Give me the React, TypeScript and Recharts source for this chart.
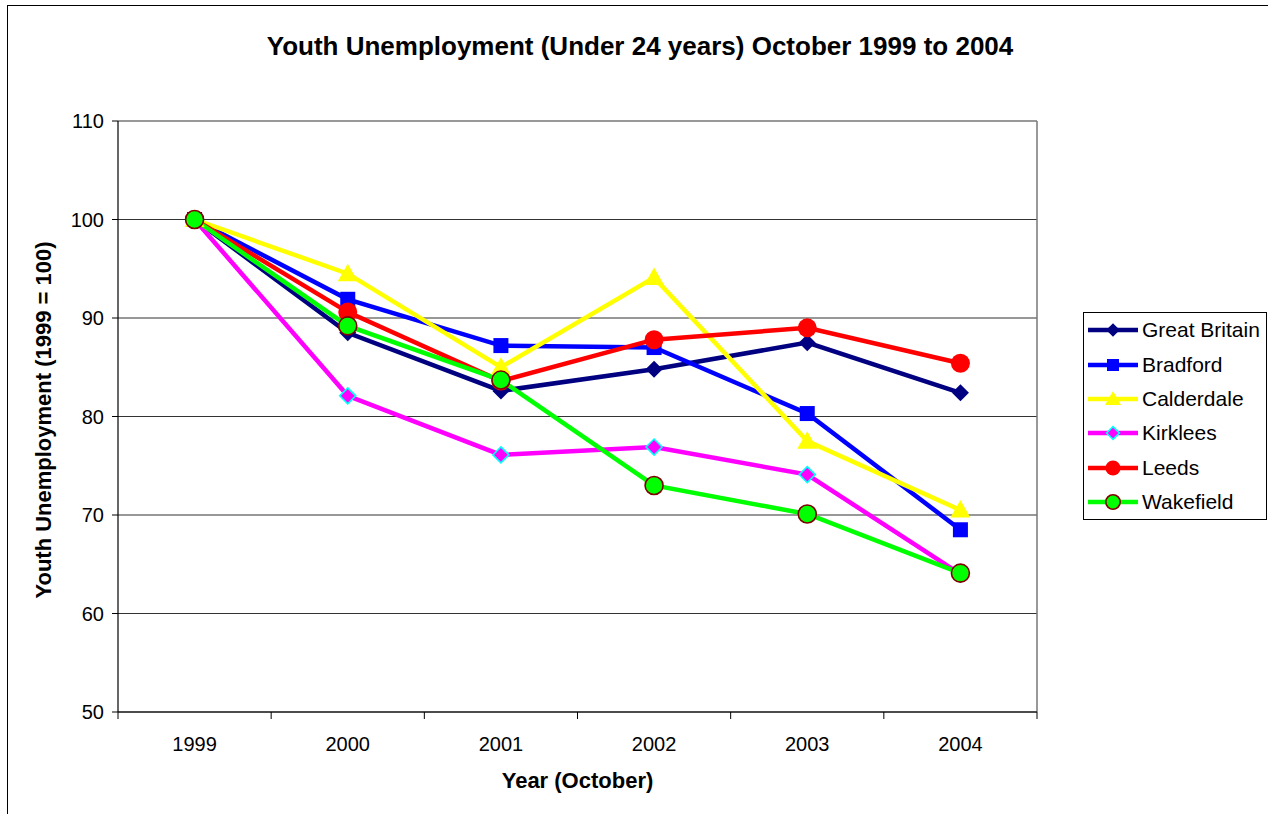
import React from 'react';
import { LineChart, Line, XAxis, YAxis, CartesianGrid, Legend, ReferenceLine } from 'recharts';

const YEARS = ['1999', '2000', '2001', '2002', '2003', '2004'];
const GREAT_BRITAIN = [100, 88.5, 82.6, 84.8, 87.5, 82.4];
const BRADFORD = [100, 91.9, 87.2, 87.0, 80.3, 68.5];
const CALDERDALE = [100, 94.5, 85.0, 94.1, 77.5, 70.5];
const KIRKLEES = [100, 82.1, 76.1, 76.9, 74.1, 64.0];
const LEEDS = [100, 90.6, 83.6, 87.8, 89.0, 85.4];
const WAKEFIELD = [100, 89.2, 83.7, 73.0, 70.1, 64.1];
const Y_TICKS = [50, 60, 70, 80, 90, 100, 110];
const X_TICKS = [0, 1, 2, 3, 4, 5];

const TITLE = 'Youth Unemployment (Under 24 years) October 1999 to 2004';
const Y_TITLE = 'Youth Unemployment (1999 = 100)';
const X_TITLE = 'Year (October)';

const FONT = '"Liberation Sans", Arial, sans-serif';
const W = 1268;
const H = 814;
const MARGIN = { top: 121, right: 231, bottom: 62, left: 0 };
const Y_AXIS_W = 118;
const X_AXIS_H = 40;
const PLOT_W = W - MARGIN.left - MARGIN.right - Y_AXIS_W;
const PLOT_BOTTOM = H - MARGIN.bottom - X_AXIS_H;
const BAND = PLOT_W / YEARS.length;

type Shape = 'diamond' | 'square' | 'triangle' | 'circle';

const SERIES: { key: string; name: string; values: number[]; color: string; shape: Shape; fill: string; stroke?: string; size: number }[] = [
  { key: 'gb', name: 'Great Britain', values: GREAT_BRITAIN, color: '#000080', shape: 'diamond', fill: '#000080', size: 8.5 },
  { key: 'bradford', name: 'Bradford', values: BRADFORD, color: '#0000FF', shape: 'square', fill: '#0000FF', size: 7.5 },
  { key: 'calderdale', name: 'Calderdale', values: CALDERDALE, color: '#FFFF00', shape: 'triangle', fill: '#FFFF00', size: 10 },
  { key: 'kirklees', name: 'Kirklees', values: KIRKLEES, color: '#FF00FF', shape: 'diamond', fill: '#FF00FF', stroke: '#00FFFF', size: 8 },
  { key: 'leeds', name: 'Leeds', values: LEEDS, color: '#FF0000', shape: 'circle', fill: '#FF0000', size: 9.5 },
  { key: 'wakefield', name: 'Wakefield', values: WAKEFIELD, color: '#00FF00', shape: 'circle', fill: '#00FF00', stroke: '#800000', size: 9 },
];

const data = YEARS.map((year, i) => {
  const row: Record<string, number | string> = { idx: i, year };
  SERIES.forEach((s) => {
    row[s.key] = s.values[i];
  });
  return row;
});

function Marker({ shape, cx, cy, fill, stroke, size }: { shape: Shape; cx: number; cy: number; fill: string; stroke?: string; size: number }) {
  const sw = stroke ? 1.6 : 0;
  const st = stroke || 'none';
  if (shape === 'diamond') {
    const pts = `${cx},${cy - size} ${cx + size},${cy} ${cx},${cy + size} ${cx - size},${cy}`;
    return <polygon points={pts} fill={fill} stroke={st} strokeWidth={sw} />;
  }
  if (shape === 'square') {
    return <rect x={cx - size} y={cy - size} width={size * 2} height={size * 2} fill={fill} stroke={st} strokeWidth={sw} />;
  }
  if (shape === 'triangle') {
    const pts = `${cx},${cy - size} ${cx + size},${cy + size * 0.75} ${cx - size},${cy + size * 0.75}`;
    return <polygon points={pts} fill={fill} stroke={st} strokeWidth={sw} />;
  }
  return <circle cx={cx} cy={cy} r={size} fill={fill} stroke={st} strokeWidth={sw} />;
}

const XTick = (p: any) => {
  const { x, payload } = p;
  const v = Math.round(payload.value);
  const left = x - BAND / 2;
  const right = x + BAND / 2;
  return (
    <g>
      <line x1={left} x2={left} y1={PLOT_BOTTOM} y2={PLOT_BOTTOM + 7} stroke="#000" strokeWidth={1} />
      {v === YEARS.length - 1 && (
        <line x1={right} x2={right} y1={PLOT_BOTTOM} y2={PLOT_BOTTOM + 7} stroke="#000" strokeWidth={1} />
      )}
      <text x={x} y={PLOT_BOTTOM + 39} textAnchor="middle" fontSize={20} fontFamily={FONT} fill="#000">
        {YEARS[v]}
      </text>
    </g>
  );
};

const LegendBox = () => (
  <div
    style={{
      border: '1px solid #000',
      background: '#fff',
      boxSizing: 'border-box',
      width: 184,
      height: 208,
      paddingLeft: 4,
      fontFamily: FONT,
      fontSize: 21,
      color: '#000',
    }}
  >
    {SERIES.map((s) => (
      <div key={s.key} style={{ display: 'flex', alignItems: 'center', height: 34.4, whiteSpace: 'nowrap' }}>
        <svg width={50} height={24} style={{ display: 'block', marginRight: 4, overflow: 'visible' }}>
          <line x1={0} x2={50} y1={12} y2={12} stroke={s.color} strokeWidth={4.5} />
          <Marker shape={s.shape} cx={25} cy={12} fill={s.fill} stroke={s.stroke} size={s.size * 0.8} />
        </svg>
        <span style={{ lineHeight: '24px' }}>{s.name}</span>
      </div>
    ))}
  </div>
);

export default function App() {
  return (
    <div style={{ position: 'absolute', left: 0, top: 0, width: W, height: H, background: '#fff', overflow: 'hidden' }}>
      <div
        style={{
          position: 'absolute',
          left: 7,
          top: 5,
          width: W - 7,
          height: H - 5,
          borderLeft: '1px solid #000',
          borderTop: '1.5px solid #000',
          boxSizing: 'border-box',
        }}
      />
      <div
        style={{
          position: 'absolute',
          left: 0,
          top: 33,
          width: 1280,
          textAlign: 'center',
          fontFamily: FONT,
          fontWeight: 'bold',
          fontSize: 26,
          lineHeight: '26px',
          whiteSpace: 'nowrap',
        }}
      >
        {TITLE}
      </div>
      <div style={{ position: 'absolute', left: 0, top: 0 }}>
        <LineChart width={W} height={H} data={data} margin={MARGIN}>
          <CartesianGrid horizontal vertical={false} stroke="#333" strokeWidth={1.2} />
          <XAxis
            type="number"
            dataKey="idx"
            domain={[-0.5, 5.5]}
            ticks={X_TICKS}
            interval={0}
            tickLine={false}
            tick={<XTick />}
            axisLine={{ stroke: '#000', strokeWidth: 1.2 }}
            height={X_AXIS_H}
          />
          <YAxis
            type="number"
            domain={[50, 110]}
            ticks={Y_TICKS}
            interval={0}
            width={Y_AXIS_W}
            tickSize={6}
            tickMargin={8}
            tickLine={{ stroke: '#000' }}
            axisLine={{ stroke: '#000', strokeWidth: 1.2 }}
            tick={{ fontSize: 20, fontFamily: FONT, fill: '#000' }}
          />
          <ReferenceLine x={5.5} stroke="#777" strokeWidth={1.5} />
          {SERIES.map((s) => (
            <Line
              key={s.key}
              dataKey={s.key}
              name={s.name}
              stroke={s.color}
              strokeWidth={4.5}
              isAnimationActive={false}
              activeDot={false}
              dot={(p: any) => (
                <Marker key={`${s.key}-${p.index}`} shape={s.shape} cx={p.cx} cy={p.cy} fill={s.fill} stroke={s.stroke} size={s.size} />
              )}
            />
          ))}
          <Legend
            layout="vertical"
            align="center"
            verticalAlign="middle"
            content={<LegendBox />}
            wrapperStyle={{ left: 1083, top: 312, width: 184, height: 208 }}
          />
        </LineChart>
      </div>
      <div
        style={{
          position: 'absolute',
          left: 44,
          top: 420,
          transform: 'translate(-50%, -50%) rotate(-90deg)',
          fontFamily: FONT,
          fontWeight: 'bold',
          fontSize: 22,
          lineHeight: '22px',
          whiteSpace: 'nowrap',
        }}
      >
        {Y_TITLE}
      </div>
      <div
        style={{
          position: 'absolute',
          left: 118 + PLOT_W / 2 - 300,
          top: 770,
          width: 600,
          textAlign: 'center',
          fontFamily: FONT,
          fontWeight: 'bold',
          fontSize: 22,
          lineHeight: '22px',
          whiteSpace: 'nowrap',
        }}
      >
        {X_TITLE}
      </div>
    </div>
  );
}
